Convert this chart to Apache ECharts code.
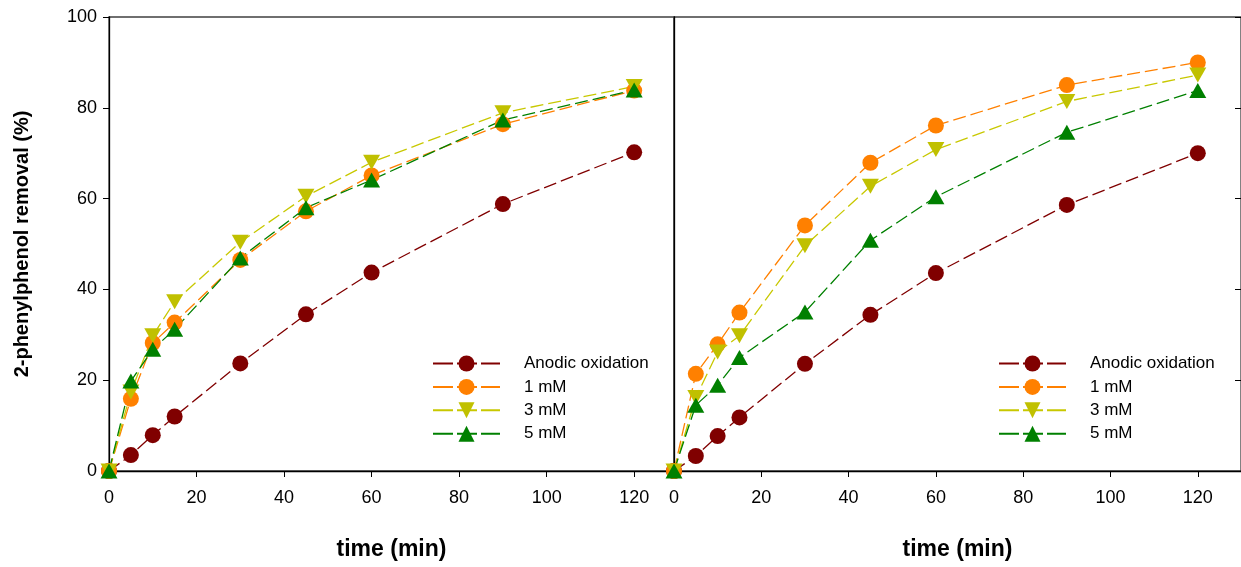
<!DOCTYPE html>
<html>
<head>
<meta charset="utf-8">
<script src="https://cdn.jsdelivr.net/npm/echarts@6/dist/echarts.min.js"></script>
<style>
html,body{margin:0;padding:0;background:#fff;}
#chart{width:1241px;height:567px;}
</style>
</head>
<body>
<div id="chart"></div>
<script>
// ---- data ----
const timeMin = [0, 5, 10, 15, 30, 45, 60, 90, 120];
const seriesNames = ['Anodic oxidation', '1 mM', '3 mM', '5 mM'];
const xTickLabels = ['0', '20', '40', '60', '80', '100', '120'];
const yTickLabels = ['0', '20', '40', '60', '80', '100'];

// left panel
const leftAnodic = [0, 3.5, 7.9, 12.0, 23.7, 34.5, 43.7, 58.8, 70.2];
const left1mM    = [0, 15.9, 28.2, 32.7, 46.5, 57.2, 65.1, 76.4, 83.8];
const left3mM    = [0, 17.4, 29.8, 37.3, 50.4, 60.5, 68.0, 78.9, 84.7];
const left5mM    = [0, 19.8, 26.8, 31.2, 46.9, 58.0, 64.1, 77.3, 83.9];

// right panel
const rightAnodic = [0, 3.3, 7.7, 11.8, 23.6, 34.4, 43.6, 58.6, 70.0];
const right1mM    = [0, 21.4, 27.9, 34.9, 54.1, 67.9, 76.1, 85.0, 90.0];
const right3mM    = [0, 16.2, 26.2, 29.8, 49.6, 62.7, 70.8, 81.4, 87.2];
const right5mM    = [0, 14.5, 18.9, 25.0, 35.0, 50.8, 60.4, 74.6, 83.8];

const colors = ['#800000', '#FF8000', '#C0C000', '#008000'];
const lineColors = ['#800000', '#FF8000', '#C8C800', '#008000'];
const symbols = ['circle', 'circle', 'path://M0,0 L10,0 L5,8.7 Z', 'triangle'];
const symbolSizes = [16, 16, [17, 15], [17, 15]];

function pairs(vals) { return timeMin.map((t, i) => [t, vals[i]]); }

const panels = [
  [leftAnodic, left1mM, left3mM, left5mM],
  [rightAnodic, right1mM, right3mM, right5mM]
];

const series = [];
panels.forEach((arrs, g) => {
  arrs.forEach((vals, k) => {
    series.push({
      name: seriesNames[k],
      type: 'line',
      xAxisIndex: g,
      yAxisIndex: g === 0 ? 0 : 1,
      data: pairs(vals),
      symbol: symbols[k],
      symbolSize: symbolSizes[k],
      showAllSymbol: true,
      itemStyle: { color: colors[k], opacity: 1 },
      lineStyle: { color: lineColors[k], width: 1.3, type: [13, 5] },
      emphasis: { disabled: true },
      animation: false
    });
  });
});

const FONT = 'Liberation Sans, Arial, sans-serif';
const fmtX = v => (v % 20 === 0 && v <= 120) ? xTickLabels[v / 20] : '';
const fmtY = v => (v % 20 === 0) ? yTickLabels[v / 20] : '';

function xAxis(g, max) {
  return {
    type: 'value', gridIndex: g, min: 0, max: max, interval: 20,
    name: 'time (min)', nameLocation: 'middle', nameGap: 67,
    nameTextStyle: { fontFamily: FONT, fontSize: 23, fontWeight: 'bold', color: '#000' },
    axisLine: { show: true, onZero: false, lineStyle: { color: '#000', width: 1.3 } },
    axisTick: { show: true, inside: false, length: 6, lineStyle: { color: '#000', width: 1 } },
    axisLabel: { show: true, margin: 18, fontFamily: FONT, fontSize: 18, color: '#000', formatter: fmtX, showMaxLabel: false },
    splitLine: { show: false }
  };
}

const legendCommon = {
  data: seriesNames,
  orient: 'vertical',
  itemWidth: 67,
  itemHeight: 20,
  itemGap: 6.4,
  padding: 0,
  selectedMode: false,
  lineStyle: { type: [20, 4] },
  textStyle: { fontFamily: FONT, fontSize: 17, color: '#000', padding: [0, 0, 0, 19] }
};

const option = {
  backgroundColor: '#fff',
  animation: false,
  grid: [
    { left: 109, top: 17, width: 565, height: 454, show: true, borderColor: '#404040', borderWidth: 1.3, backgroundColor: 'transparent' },
    { left: 674, top: 17, width: 570, height: 454, show: true, borderColor: '#404040', borderWidth: 1.3, backgroundColor: 'transparent' }
  ],
  xAxis: [xAxis(0, 129.1), xAxis(1, 129.9)],
  yAxis: [
    {
      type: 'value', gridIndex: 0, min: 0, max: 100, interval: 20,
      name: '2-phenylphenol removal (%)', nameLocation: 'middle', nameGap: 77,
      nameTextStyle: { fontFamily: FONT, fontSize: 20, fontWeight: 'bold', color: '#000' },
      axisLine: { show: true, lineStyle: { color: '#000', width: 1.3 } },
      axisTick: { show: true, inside: false, length: 6, lineStyle: { color: '#000' } },
      axisLabel: { margin: 12, fontFamily: FONT, fontSize: 18, color: '#000', formatter: fmtY },
      splitLine: { show: false }
    },
    {
      type: 'value', gridIndex: 1, min: 0, max: 100, interval: 20, position: 'left',
      axisLine: { show: true, lineStyle: { color: '#000', width: 1.3 } },
      axisTick: { show: false },
      axisLabel: { show: false },
      splitLine: { show: false }
    },
    {
      type: 'value', gridIndex: 1, min: 0, max: 100, interval: 20, position: 'right',
      axisLine: { show: false },
      axisTick: { show: true, inside: true, length: 6, lineStyle: { color: '#000' } },
      axisLabel: { show: false },
      splitLine: { show: false }
    }
  ],
  legend: [
    Object.assign({ left: 432, top: 355 }, legendCommon),
    Object.assign({ left: 998, top: 355 }, legendCommon)
  ],
  series: series
};

const chart = echarts.init(document.getElementById('chart'), null, { renderer: 'canvas' });
chart.setOption(option);
</script>
</body>
</html>
